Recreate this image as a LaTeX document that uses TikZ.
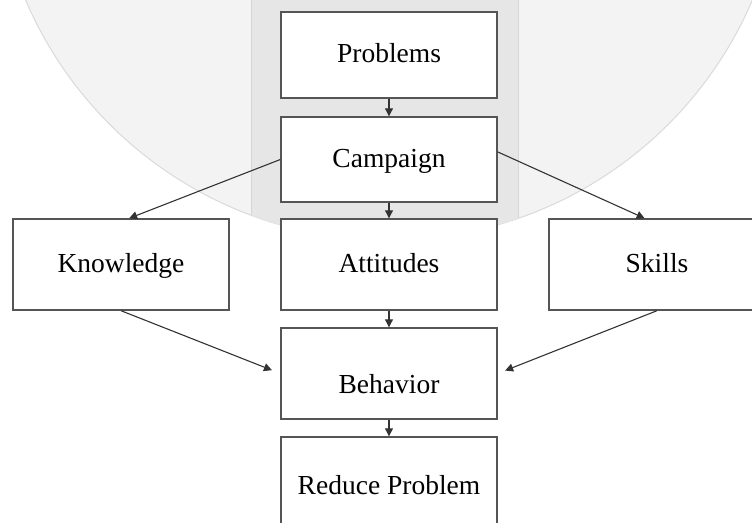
\documentclass[tikz,border=0pt]{standalone}
\usepackage{fontspec}
\setmainfont{Liberation Serif}
\usepackage{tikz}
\usetikzlibrary{arrows.meta,positioning}
\definecolor{discgray}{HTML}{F3F3F3}
\definecolor{discedge}{HTML}{DADADA}
\definecolor{bandgray}{HTML}{E6E6E6}
\definecolor{bandedge}{HTML}{D6D6D6}
\definecolor{boxgray}{HTML}{555555}
\definecolor{linegray}{HTML}{333333}

\begin{document}
\begin{tikzpicture}[->,>={Triangle[length=8pt,width=8pt]},x=1pt,y=1pt,
      node distance=16.6pt and 50.6pt,
      every edge/.style={draw=linegray,line width=1.1pt},
      stage/.style={rectangle,draw=boxgray,line width=1.4pt,fill=white,
        minimum width=216pt,minimum height=91pt,inner sep=0pt,
        text height=19pt,text depth=4pt,
        font=\fontsize{27.5}{32}\selectfont}]
    \useasboundingbox (0,-522) rectangle (752,0);
    % background disc with the middle band
    \fill[-,discgray,draw=discedge,line width=1pt] (389,155) circle (395);
    \begin{scope}
      \clip (389,155) circle (395);
      \fill[-,bandgray,draw=bandedge,line width=1pt] (251,10) rectangle (518,-300);
    \end{scope}
    \node[stage,minimum height=86pt] (problems) at (389,-55) {Problems};
    \node[stage,minimum height=85pt] (campaign) [below=17.6pt of problems] {Campaign};
    \node[stage] (attitudes) [below=15.6pt of campaign] {Attitudes};
    \node[stage] (knowledge) [left=of attitudes] {Knowledge};
    \node[stage] (skills) [right=of attitudes] {Skills};
    \node[stage,text height=40pt,text depth=0pt] (behavior) [below=of attitudes] {Behavior};
    \node[stage,text height=23pt,text depth=0pt] (reduce) [below=of behavior] {Reduce Problem};
    \path (problems) edge (campaign)
          (campaign) edge (attitudes)
          (attitudes) edge (behavior)
          (behavior) edge (reduce)
          (campaign.west) edge (knowledge.80)
          (campaign.4) edge (skills.105)
          (knowledge.south) edge [shorten >=9pt] (behavior.west)
          (skills.south) edge [shorten >=8pt] (behavior.east);
\end{tikzpicture}
\end{document}
